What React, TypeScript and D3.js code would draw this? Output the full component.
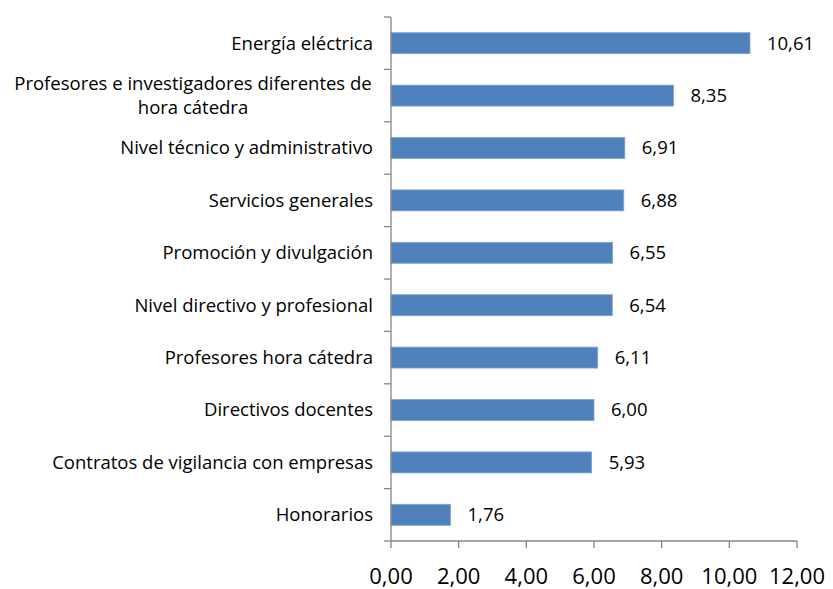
import React from "react";
import * as d3 from "d3";

const categories: string[][] = [
  ["Energía eléctrica"],
  ["Profesores e investigadores diferentes de", "hora cátedra"],
  ["Nivel técnico y administrativo"],
  ["Servicios generales"],
  ["Promoción y divulgación"],
  ["Nivel directivo y profesional"],
  ["Profesores hora cátedra"],
  ["Directivos docentes"],
  ["Contratos de vigilancia con empresas"],
  ["Honorarios"],
];
const values: number[] = [10.61, 8.35, 6.91, 6.88, 6.55, 6.54, 6.11, 6.0, 5.93, 1.76];
const ticks: number[] = [0, 2, 4, 6, 8, 10, 12];

const W = 833, H = 589;
const left = 391, right = 797, top = 17, bottom = 541;
const font = "'Open Sans', 'Noto Sans', sans-serif";
const fmt = (v: number) => v.toFixed(2).replace(".", ",");
const labelSize = 18.5;

export default function App() {
  const x = d3.scaleLinear().domain([0, 12]).range([left, right]);
  const idx = categories.map((_, i) => i);
  const y = d3.scaleBand<number>().domain(idx).range([top, bottom]).paddingInner(0.6).paddingOuter(0.3);
  const band = d3.scaleBand<number>().domain(idx).range([top, bottom]);
  const axisColor = "#868686";
  return (
    <svg width={W} height={H} style={{ position: "absolute", left: 0, top: 0, background: "#fff" }}>
      {idx.map((i) => (
        <rect key={"b" + i} x={x(0)} y={y(i)!} width={x(values[i]) - x(0)} height={y.bandwidth()}
          fill="#4F81BD" stroke="#7EA3D1" strokeWidth={0.8} />
      ))}
      {/* y axis */}
      <line x1={left} x2={left} y1={top} y2={bottom} stroke={axisColor} strokeWidth={1.3} />
      {d3.range(categories.length + 1).map((k) => {
        const yy = top + k * band.step();
        return <line key={"yt" + k} x1={left - 7} x2={left} y1={yy} y2={yy} stroke={axisColor} strokeWidth={1.3} />;
      })}
      {/* x axis */}
      <line x1={left} x2={right} y1={bottom} y2={bottom} stroke={axisColor} strokeWidth={1.3} />
      {ticks.map((t) => (
        <g key={"xt" + t}>
          <line x1={x(t)} x2={x(t)} y1={bottom} y2={bottom + 7} stroke={axisColor} strokeWidth={1.3} />
          <text x={x(t)} y={584} textAnchor="middle" fontFamily={font} fontSize={22} fill="#000">{fmt(t)}</text>
        </g>
      ))}
      {/* category labels */}
      {idx.map((i) => {
        const lines = categories[i];
        const cy = band(i)! + band.bandwidth() / 2;
        if (lines.length === 1) {
          return (
            <text key={"c" + i} x={373} y={cy} dy="0.35em" textAnchor="end" fontFamily={font} fontSize={labelSize} fill="#000">{lines[0]}</text>
          );
        }
        const lh = 24;
        return (
          <text key={"c" + i} x={193} textAnchor="middle" fontFamily={font} fontSize={labelSize} fill="#000">
            {lines.map((l, j) => (
              <tspan key={j} x={193} y={cy + (j - (lines.length - 1) / 2) * lh} dy="0.35em">{l}</tspan>
            ))}
          </text>
        );
      })}
      {/* value labels */}
      {idx.map((i) => (
        <text key={"v" + i} x={x(values[i]) + 17} y={y(i)! + y.bandwidth() / 2} dy="0.35em" fontFamily={font} fontSize={labelSize} fill="#000">
          {fmt(values[i])}
        </text>
      ))}
    </svg>
  );
}
